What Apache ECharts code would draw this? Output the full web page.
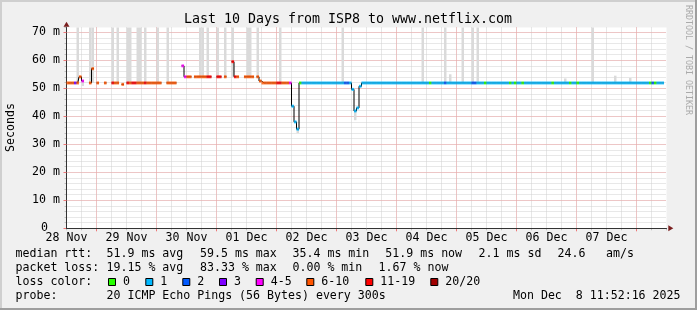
<!DOCTYPE html>
<html><head><meta charset="utf-8">
<script src="https://cdn.jsdelivr.net/npm/echarts@6/dist/echarts.min.js"></script>
<style>html,body{margin:0;padding:0;background:#f0f0f0}#c{width:697px;height:310px}</style>
</head><body><div id="c"></div>
<script>
// ---------------- data ----------------
const xTickLabels = ['28 Nov','29 Nov','30 Nov','01 Dec','02 Dec','03 Dec','04 Dec','05 Dec','06 Dec','07 Dec'];
const yTickLabels = ['0','10 m','20 m','30 m','40 m','50 m','60 m','70 m'];
const lossLabels = ['0','1','2','3','4-5','6-10','11-19','20/20'];
const lossColors = ['#26ff00','#00b8ff','#0059ff','#7e00ff','#ff00ff','#ff5500','#ff0000','#a10000'];
// hourly samples from 28 Nov 12:00 (index 0) ; runs: [start, count, median ms, loss class]
const medianRuns = [
 [0,3,51.9,5],[3,1,51.9,3],[4,1,51.9,5],[5,1,54.1,5],[6,1,52.6,4],
 [9,1,51.9,5],[10,1,57,5],[12,1,51.9,5],[15,1,51.9,5],[18,1,51.9,6],[19,2,51.9,5],
 [22,1,51.4,5],[24,1,51.9,6],[25,1,51.9,5],[26,2,51.9,6],[28,3,51.9,5],[31,1,51.9,6],
 [32,6,51.9,5],[40,4,51.9,5],[46,1,58,4],[47,1,54.1,4],[48,2,54.1,5],[51,5,54.1,5],
 [56,2,54.1,6],[60,2,54.1,6],[63,1,54.1,5],[66,1,59.5,6],[67,1,54.1,6],[68,1,54.1,5],
 [71,4,54.1,5],[76,1,54.1,5],[77,1,52.6,5],[78,6,51.9,5],[84,2,51.9,6],[86,3,51.9,5],
 [89,1,51.9,4],[90,1,43.6,1],[91,1,38,1],[92,1,35.4,1],[93,1,51.9,0],[94,17,51.9,1],
 [111,2,51.9,2],[113,1,51.9,1],[114,1,49.6,1],[115,1,41.9,1],[116,1,43,1],[117,1,50.7,1],
 [118,27,51.9,1],[145,1,51.9,0],[146,5,51.9,1],[151,1,51.9,2],[152,10,51.9,1],[162,2,51.9,2],
 [164,3,51.9,1],[167,1,51.9,0],[168,9,51.9,1],[177,1,51.9,0],[178,1,51.9,1],[179,1,51.9,0],
 [180,2,51.9,1],[182,1,51.9,0],[183,11,51.9,1],[194,1,51.9,0],[195,6,51.9,1],[201,1,51.9,0],
 [202,2,51.9,1],[204,1,51.9,0],[205,28,51.9,1],[233,1,51.9,0],[234,1,51.9,2],[235,1,51.9,0],
 [236,3,51.9,1]
];
// smoke (ping spread): [sample index, low ms, high ms]
const smoke = [
 [4,51.9,80],[9,51.9,80],[10,51.9,80],[18,51.9,80],[20,51.9,80],[24,51.9,80],[25,51.9,80],
 [28,51.9,80],[29,51.9,80],[31,51.9,80],[36,51.9,80],[40,51.9,80],[53,54.1,80],[54,54.1,80],
 [56,54.1,80],[60,54.1,80],[63,54.1,80],[66,54.1,80],[72,54.1,80],[73,54.1,80],[76,54.1,80],
 [85,51.9,80],[110,51.9,80],[142,51.9,80],[151,51.9,80],[158,51.9,80],[162,51.9,80],
 [164,51.9,80],[210,51.9,80],
 [6,50.8,52.6],[92,34,35.4],[115,38.6,41.9],[153,51.9,55],[199,51.9,53.5],[219,51.9,54.5],[225,51.9,53.7]
];
const statsRtt = ['median rtt:','51.9 ms avg','59.5 ms max','35.4 ms min','51.9 ms now','2.1 ms sd','24.6','am/s'];
const statsLoss = ['packet loss:','19.15 % avg','83.33 % max','0.00 % min','1.67 % now'];
const probeText = ['probe:','20 ICMP Echo Pings (56 Bytes) every 300s','Mon Dec  8 11:52:16 2025'];
const titleText = 'Last 10 Days from ISP8 to www.netflix.com';
const N = 240;

// ---------------- build ----------------
const median = new Array(N).fill(null), loss = new Array(N).fill(null);
medianRuns.forEach(([s,n,v,c]) => { for (let k=0;k<n;k++){ median[s+k]=v; loss[s+k]=c; } });
const smokeBase = new Array(N).fill(null), smokeSpan = new Array(N).fill(null);
smoke.forEach(([i,lo,hi]) => { smokeBase[i]=lo; smokeSpan[i]=+(hi-lo).toFixed(2); });
const colored = [];
median.forEach((v,i)=>{ if(v!=null) colored.push({value:[i,v], itemStyle:{color:lossColors[loss[i]]}}); });

const FONT = '"DejaVu Sans Mono", monospace';
const FS = 11.6;
const GREY = '#d0d0d0', RED = '#f2a4a4', AX = '#333333', ARROW = '#7a1f1f';

const chart = echarts.init(document.getElementById('c'), null, {renderer:'canvas'});
const txt = (text,x,y,opt={}) => ({type:'text', x, y, rotation:opt.rot||0, z:10, silent:true,
  style:{text, font:(opt.fs||FS)+'px '+FONT, fill:opt.color||'#000',
    align:opt.align||'left', textAlign:opt.align||'left', verticalAlign:'middle', textVerticalAlign:'middle'}});

const graphics = [];
graphics.push(txt(titleText, 348, 19.3, {fs:13.3, align:'center'}));
graphics.push(txt('Seconds', 11, 127.5, {rot:Math.PI/2, align:'center'}));
graphics.push(txt('RRDTOOL / TOBI OETIKER', 688.5, 60, {rot:-Math.PI/2, align:'center', fs:8.3, color:'#aaaaaa'}));
const rttX = [15.5,106.5,200,292.5,385.3,478.6,557.6,606];
statsRtt.forEach((t,k)=>graphics.push(txt(t, rttX[k], 253.8)));
const lossX = [15.5,106.5,200,292.5,378.6];
statsLoss.forEach((t,k)=>graphics.push(txt(t, lossX[k], 267.8)));
graphics.push(txt('loss color:', 15.5, 281.8));
const boxX = [108,145.3,182.3,219,255.7,306.3,365.3,430.3];
lossLabels.forEach((t,k)=>{
  graphics.push({type:'rect', z:10, silent:true, shape:{x:boxX[k]+0.5, y:278.5, width:7, height:7},
    style:{fill:lossColors[k], stroke:'#000', lineWidth:1}});
  graphics.push(txt(t, boxX[k]+15, 281.8));
});
graphics.push(txt(probeText[0], 15.5, 295.8));
graphics.push(txt(probeText[1], 106.5, 295.8));
graphics.push(txt(probeText[2], 680.5, 295.8, {align:'right'}));
// frame
graphics.push({type:'rect', z:10, silent:true, shape:{x:0,y:0,width:697,height:2}, style:{fill:'#cfcfcf'}});
graphics.push({type:'rect', z:10, silent:true, shape:{x:0,y:0,width:2,height:310}, style:{fill:'#cfcfcf'}});
graphics.push({type:'rect', z:10, silent:true, shape:{x:0,y:308,width:697,height:2}, style:{fill:'#9e9e9e'}});
graphics.push({type:'rect', z:10, silent:true, shape:{x:695,y:0,width:2,height:310}, style:{fill:'#9e9e9e'}});

const range = (n)=>Array.from({length:n},(_,k)=>k);
const noLine = {show:false}, noLabel = {show:false}, noTick = {show:false}, noSplit = {show:false};

chart.setOption({
  animation:false,
  backgroundColor:'#f0f0f0',
  grid:{left:66.5, right:30.5, top:27.5, bottom:81.7, show:true, backgroundColor:'#ffffff', borderWidth:0},
  graphic:graphics,
  xAxis:[
    {type:'category', data:range(N), boundaryGap:true, position:'bottom', axisLine:noLine, axisLabel:noLabel, axisTick:noTick, splitLine:noSplit},
    {type:'category', data:range(41), boundaryGap:false, position:'bottom', axisLine:{show:false,onZero:false}, axisLabel:noLabel,
      axisTick:{show:true, interval:0, length:2, lineStyle:{color:'#c0c0c0'}},
      splitLine:{show:true, interval:0, showMinLine:false, showMaxLine:false, lineStyle:{color:GREY, type:[1,1]}}, z:0},
    {type:'category', data:range(21), boundaryGap:false, position:'bottom', axisLine:{show:false,onZero:false}, axisLabel:noLabel,
      axisTick:{show:true, interval:(i)=>i%2===1, length:3, lineStyle:{color:'#ee7777'}},
      splitLine:{show:true, interval:(i)=>i%2===1, lineStyle:{color:RED, type:[1,1]}}, z:1},
    {type:'category', data:xTickLabels.concat(['']), boundaryGap:false, position:'bottom',
      axisLine:{show:true, onZero:false, lineStyle:{color:AX, width:1}}, axisTick:noTick, splitLine:noSplit,
      axisLabel:{show:true, interval:0, margin:3.5, fontFamily:FONT, fontSize:FS, color:'#000'}, z:3},
    {type:'category', data:[0,1], position:'bottom', axisTick:noTick, axisLabel:noLabel, splitLine:noSplit,
      axisLine:{show:true, onZero:false, symbol:['none','triangle'], symbolSize:[6,5], symbolOffset:[0,4.3], lineStyle:{color:ARROW, width:0}}, z:4}
  ],
  yAxis:[
    {type:'value', min:0, max:71.7, interval:2, position:'left', axisLine:{show:false}, axisLabel:noLabel,
      axisTick:{show:true, length:2, lineStyle:{color:'#c0c0c0'}},
      splitLine:{show:true, showMinLine:false, showMaxLine:false, lineStyle:{color:GREY, type:[1,1]}}, z:0},
    {type:'value', min:0, max:71.7, interval:10, position:'left',
      axisLine:{show:true, onZero:false, lineStyle:{color:AX, width:1}},
      axisTick:{show:true, length:3, lineStyle:{color:'#ee7777'}},
      axisLabel:{show:true, margin:6.5, showMaxLabel:false, fontFamily:FONT, fontSize:FS, color:'#000',
        formatter:(v)=>{ if (Math.abs(v%10)>1e-6) return ''; const i=Math.round(v/10); return i===0 ? '{z|'+yTickLabels[0]+'}' : yTickLabels[i]; },
        rich:{z:{fontFamily:FONT, fontSize:FS, color:'#000', padding:[0,12,0,0]}}},
      splitLine:{show:true, showMinLine:false, showMaxLine:false, lineStyle:{color:RED, type:[1,1]}}, z:1},
    {type:'value', min:0, max:71.7, position:'left', axisTick:noTick, axisLabel:noLabel, splitLine:noSplit,
      axisLine:{show:true, onZero:false, symbol:['none','triangle'], symbolSize:[6,5], symbolOffset:[0,3.3], lineStyle:{color:ARROW, width:0}}, z:4}
  ],
  series:[
    {type:'bar', name:'smokeBase', xAxisIndex:0, yAxisIndex:0, stack:'smoke', data:smokeBase, barCategoryGap:'0%', barGap:'0%',
      itemStyle:{color:'rgba(0,0,0,0)'}, silent:true, z:1},
    {type:'bar', name:'smoke', xAxisIndex:0, yAxisIndex:0, stack:'smoke', data:smokeSpan, barCategoryGap:'0%', barGap:'0%',
      itemStyle:{color:'#dadada'}, silent:true, clip:true, z:1},
    {type:'line', name:'median', xAxisIndex:0, yAxisIndex:0, data:median, step:'middle', symbol:'none', showSymbol:false,
      connectNulls:false, lineStyle:{color:'#000', width:1}, silent:true, z:3},
    {type:'scatter', name:'loss', xAxisIndex:0, yAxisIndex:0, data:colored, symbol:'rect', symbolSize:[2.6,3], silent:true, z:4}
  ]
});
</script></body></html>
